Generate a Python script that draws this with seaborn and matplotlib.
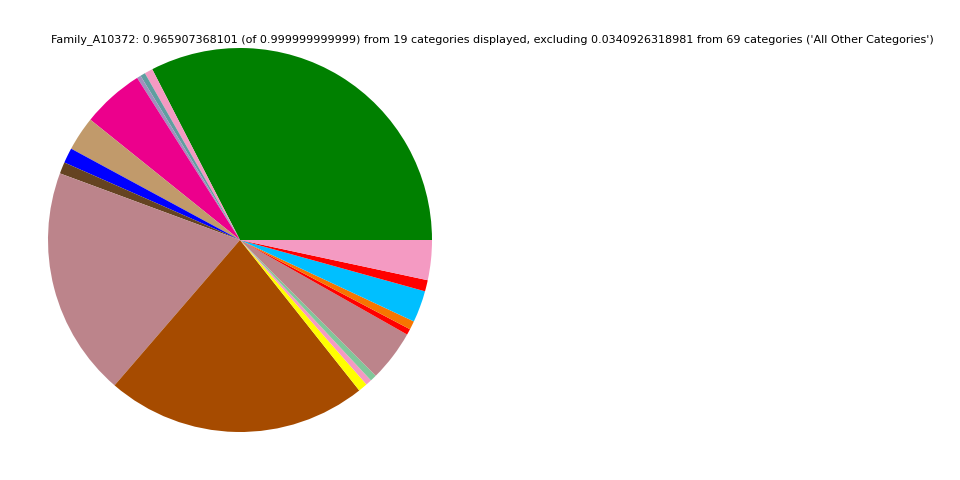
import matplotlib
matplotlib.use("Agg")
import matplotlib.pyplot as plt
import seaborn as sns

sns.set_style("white")
plt.rcParams['font.family'] = ['DejaVu Sans']
plt.rcParams['text.color'] = 'black'

# angular shares (degrees) -> values scaled to displayed total 0.965907368101
shares_deg = [117.2, 2.5, 1.5, 1.2, 18.8, 10.4, 4.6, 3.5, 69.5, 79.2,
              2.8, 1.8, 2.0, 15.5, 1.8, 2.6, 9.6, 3.4, 12.1]
displayed_total = 0.965907368101
values = [d / sum(shares_deg) * displayed_total for d in shares_deg]
colors = ["#008000", "#f49ac2", "#5f9ea0", "#9e91bd", "#ec008c", "#c19a6b",
          "#0000ff", "#654321", "#bc848b", "#a64b00", "#ffff00", "#f49ac2",
          "#80c79a", "#bc848b", "#ff0000", "#f77500", "#00bfff", "#ff0000",
          "#f49ac2"]
title = ("Family_A10372: 0.965907368101 (of 0.999999999999) from 19 categories displayed, "
         "excluding 0.0340926318981 from 69 categories ('All Other Categories')")

fig = plt.figure(figsize=(9.6, 4.8), dpi=100)
ax = fig.add_axes([0, 0, 0.5, 1])
ax.pie(values, colors=colors, startangle=0, counterclock=True, normalize=True,
       wedgeprops=dict(linewidth=0))
ax.set_aspect("equal")
t = fig.text(492 / 960, 1 - 40 / 480, title, ha="center", va="center",
             fontsize=10, color="black")
# fit title width to the reference (~883 px)
fig.canvas.draw()
w = t.get_window_extent(fig.canvas.get_renderer()).width
t.set_fontsize(10 * 883 / w)
fig.savefig("out.png", dpi=100)
